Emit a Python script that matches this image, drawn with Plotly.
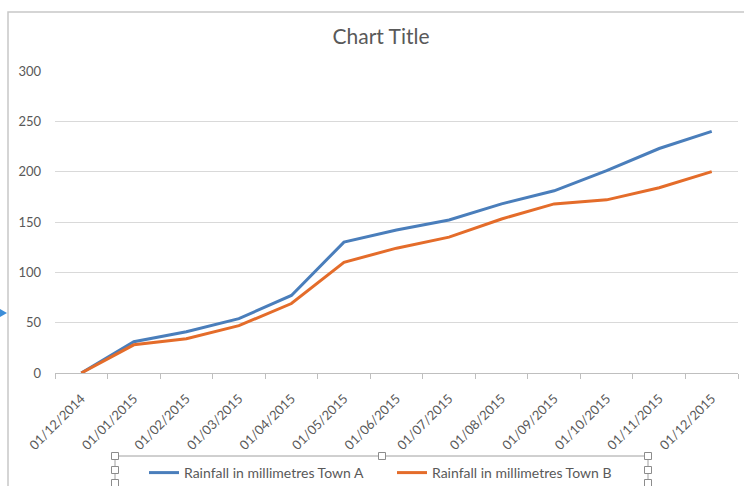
import plotly.graph_objects as go

categories = ["01/12/2014", "01/01/2015", "01/02/2015", "01/03/2015", "01/04/2015",
              "01/05/2015", "01/06/2015", "01/07/2015", "01/08/2015", "01/09/2015",
              "01/10/2015", "01/11/2015", "01/12/2015"]
town_a = [0, 31, 41, 54, 77, 130, 142, 152, 168, 181, 201, 223, 240]
town_b = [0, 28, 34, 47, 69, 110, 124, 135, 153, 168, 172, 184, 200]
y_ticks = [0, 50, 100, 150, 200, 250, 300]

W, H = 744, 486
L, R, T, B = 55, 6, 71, 113
pw, ph = W - L - R, H - T - B

def px(x):
    return (x - L) / pw

def py(y):
    return (H - B - y) / ph

font_family = "Lato, 'Open Sans', sans-serif"
grey = "#595959"

fig = go.Figure()
fig.add_trace(go.Scatter(x=categories, y=town_a, mode="lines",
                         name="Rainfall in millimetres Town A",
                         line=dict(color="#4A7EBB", width=3)))
fig.add_trace(go.Scatter(x=categories, y=town_b, mode="lines",
                         name="Rainfall in millimetres Town B",
                         line=dict(color="#E46C2A", width=3)))

shapes = []
# chart border
shapes.append(dict(type="rect", xref="paper", yref="paper",
                   x0=px(8), x1=px(760), y0=py(500), y1=py(12),
                   line=dict(color="#C8C8C8", width=1.5), layer="below"))
# legend selection frame
shapes.append(dict(type="rect", xref="paper", yref="paper",
                   x0=px(115), x1=px(648), y0=py(497), y1=py(456),
                   line=dict(color="#A0A0A0", width=1)))
for hx, hy in [(115, 456), (115, 470), (115, 483), (382, 456), (648, 456), (648, 470), (648, 483)]:
    shapes.append(dict(type="rect", xref="paper", yref="paper",
                       x0=px(hx - 3.5), x1=px(hx + 3.5), y0=py(hy + 3.5), y1=py(hy - 3.5),
                       line=dict(color="#8C8C8C", width=1), fillcolor="white"))
# selection arrow on left
shapes.append(dict(type="path", xref="paper", yref="paper",
                   path=f"M {px(0)} {py(309)} L {px(7)} {py(313)} L {px(0)} {py(317)} Z",
                   fillcolor="#3C8DD8", line=dict(width=0)))

fig.update_layout(
    width=W, height=H,
    margin=dict(l=L, r=R, t=T, b=B),
    paper_bgcolor="white", plot_bgcolor="white",
    font=dict(family=font_family, color=grey, size=13),
    title=dict(text="Chart Title", x=px(381), xref="paper", xanchor="center",
               y=1 - 37 / H, yanchor="middle",
               font=dict(size=21, color=grey, family=font_family)),
    showlegend=True,
    legend=dict(orientation="h", xref="container", yref="container",
                x=(144) / W, xanchor="left", y=1 - 473 / H, yanchor="middle",
                font=dict(size=14, color=grey), bgcolor="rgba(0,0,0,0)",
                itemwidth=30, entrywidth=203, tracegroupgap=0),
    shapes=shapes,
)
fig.update_xaxes(type="category", range=[-0.5, 12.5], tickangle=-45, showgrid=False,
                 showline=True, linecolor="#BFBFBF", linewidth=1,
                 ticks="outside", tickson="boundaries", ticklen=5, tickcolor="#BFBFBF",
                 tickfont=dict(size=13, color=grey), zeroline=False,
                 automargin=False, ticklabelstandoff=12)
fig.update_yaxes(range=[0, 300], tickvals=y_ticks, showgrid=True, gridcolor="#D9D9D9",
                 gridwidth=1, zeroline=False, showline=False, ticks="",
                 tickfont=dict(size=13, color=grey), ticklabelstandoff=13,
                 automargin=False)

fig.write_html("out.html")
